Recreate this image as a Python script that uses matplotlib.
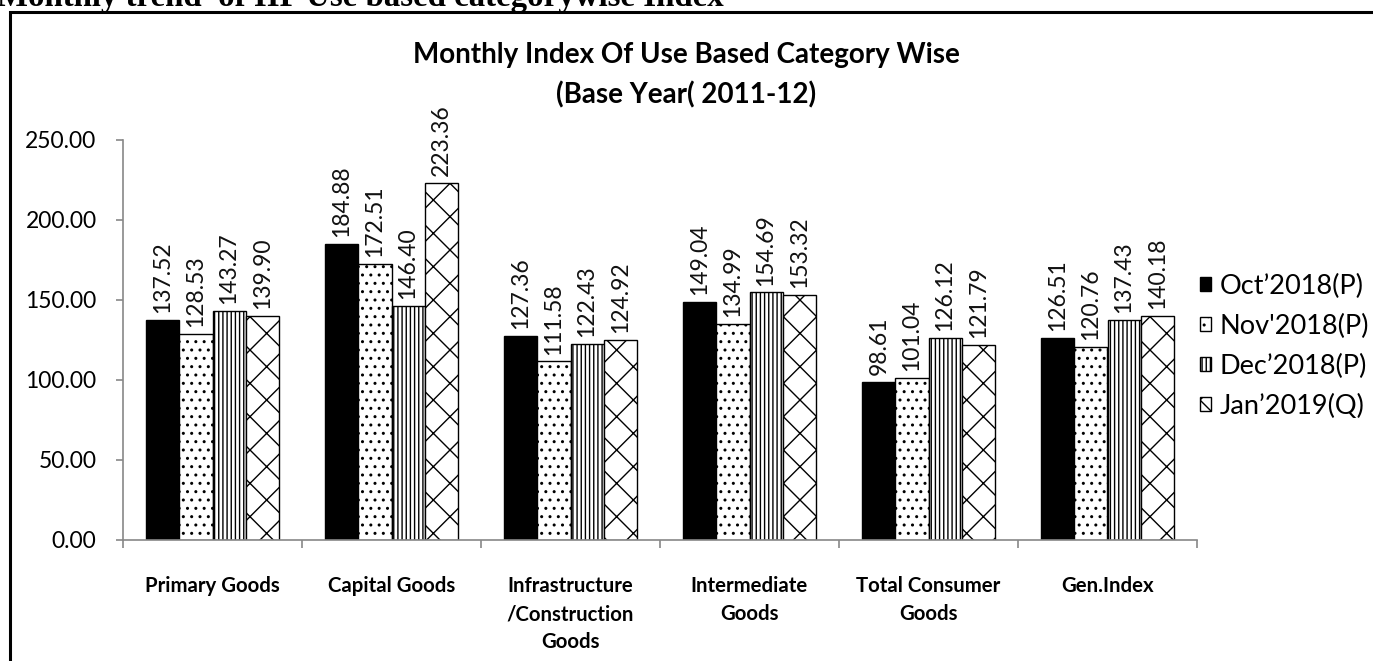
import matplotlib.pyplot as plt
from matplotlib.patches import Rectangle
import numpy as np

plt.rcParams['font.family'] = ['Lato', 'DejaVu Sans']
plt.rcParams['hatch.linewidth'] = 1.0

categories = ['Primary Goods', 'Capital Goods', 'Infrastructure\n/Construction\nGoods',
              'Intermediate\nGoods', 'Total Consumer\nGoods', 'Gen.Index']
series = ['Oct\u20192018(P)', "Nov'2018(P)", 'Dec\u20192018(P)', 'Jan\u20192019(Q)']
oct18 = [137.52, 184.88, 127.36, 149.04, 98.61, 126.51]
nov18 = [128.53, 172.51, 111.58, 134.99, 101.04, 120.76]
dec18 = [143.27, 146.40, 122.43, 154.69, 126.12, 137.43]
jan19 = [139.90, 223.36, 124.92, 153.32, 121.79, 140.18]
values = [oct18, nov18, dec18, jan19]

fills = ['black', 'white', 'white', 'white']
hatches = [None, '..', '||||', 'x']

fig = plt.figure(figsize=(13.73, 6.61), dpi=100)
ax = fig.add_axes([123 / 1373, 1 - 540 / 661, (1197 - 123) / 1373, 400 / 661])

x = np.arange(len(categories))
w = 0.185
handles = []
for i, vals in enumerate(values):
    pos = x + (i - 1.5) * w
    bars = ax.bar(pos, vals, w, color=fills[i], edgecolor='black', hatch=hatches[i], linewidth=1.0)
    handles.append(bars[0])
    for p, v in zip(pos, vals):
        ax.annotate(f'{v:.2f}', (p, v), xytext=(0, 5), textcoords='offset points',
                    rotation=90, ha='center', va='bottom', fontsize=16.5, color='#111111')

ax.set_xlim(-0.5, len(categories) - 0.5)
ax.set_ylim(0, 250)
ax.set_yticks(np.arange(0, 251, 50))
ax.set_yticklabels([f'{t:.2f}' for t in np.arange(0, 251, 50)], fontsize=16.5)
ax.tick_params(axis='y', colors='#888888', labelcolor='black', length=5, width=1.2, pad=14)

ax.set_xticks(np.arange(-0.5, len(categories), 1.0))
ax.set_xticklabels([])
ax.tick_params(axis='x', which='major', colors='#888888', length=6, width=1.2, direction='out')
ax.set_xticks(x, minor=True)
ax.set_xticklabels(categories, minor=True, fontsize=14.7, fontweight='bold', linespacing=1.5)
ax.tick_params(axis='x', which='minor', length=0, pad=26, labelcolor='black')

for s in ['top', 'right']:
    ax.spines[s].set_visible(False)
ax.spines['left'].set_color('#888888')
ax.spines['bottom'].set_color('#888888')
ax.spines['left'].set_linewidth(1.2)
ax.spines['bottom'].set_linewidth(1.2)

fig.text(686 / 1373, 1 - 55 / 661, 'Monthly Index Of Use Based Category Wise',
         ha='center', va='center', fontsize=20, fontweight='bold')
fig.text(686 / 1373, 1 - 95 / 661, '(Base Year( 2011-12)',
         ha='center', va='center', fontsize=20, fontweight='bold')

fig.legend(handles, series, loc='upper left', bbox_to_anchor=(1200 / 1373, 1 - 274 / 661),
           frameon=False, fontsize=19.5, handlelength=0.42, handleheight=0.42,
           handletextpad=0.3, labelspacing=0.55, borderaxespad=0, borderpad=0)

# outer box and clipped heading from the document
fig.patches.append(Rectangle((9.5 / 1373, -0.1), 1.2, 1.1 - 12 / 661, transform=fig.transFigure,
                             fill=False, edgecolor='black', linewidth=2.2))
head_kw = dict(ha='left', va='baseline', fontweight='bold', family='Liberation Serif')
probe = fig.text(0, 0.5, 'Monthly trend  of IIP Use based', fontsize=15, **head_kw)
fig.canvas.draw()
size = 15 * 450 / probe.get_window_extent().width
probe.remove()
fig.text(-3 / 1373, 1 - 6 / 661, 'Monthly trend  of IIP Use based categorywise Index',
         fontsize=size, **head_kw)

fig.savefig('out.png', dpi=100)
